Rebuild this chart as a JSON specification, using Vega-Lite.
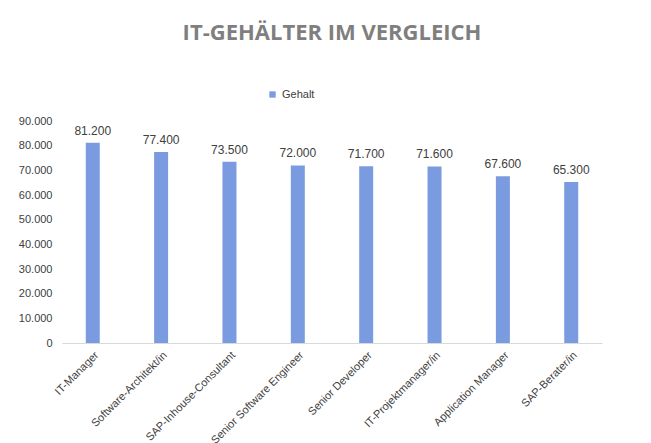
{
  "$schema": "https://vega.github.io/schema/vega-lite/v6.json",
  "width": 540,
  "height": 222,
  "padding": {"left": 18, "top": 22, "right": 30, "bottom": 10},
  "background": "white",
  "config": {
    "locale": {"number": {"decimal": ",", "thousands": ".", "grouping": [3], "currency": ["", " €"]}},
    "view": {"stroke": null},
    "font": "Liberation Sans"
  },
  "title": {
    "text": "IT-GEHÄLTER IM VERGLEICH",
    "fontSize": 22,
    "fontWeight": "bold",
    "color": "#7f7f7f",
    "font": "Open Sans",
    "offset": 44
  },
  "data": {
    "values": [
      {"Beruf": "IT-Manager", "Gehalt": 81200},
      {"Beruf": "Software-Architekt/in", "Gehalt": 77400},
      {"Beruf": "SAP-Inhouse-Consultant", "Gehalt": 73500},
      {"Beruf": "Senior Software Engineer", "Gehalt": 72000},
      {"Beruf": "Senior Developer", "Gehalt": 71700},
      {"Beruf": "IT-Projektmanager/in", "Gehalt": 71600},
      {"Beruf": "Application Manager", "Gehalt": 67600},
      {"Beruf": "SAP-Berater/in", "Gehalt": 65300}
    ]
  },
  "encoding": {
    "x": {
      "field": "Beruf", "type": "nominal", "sort": null, "title": null,
      "scale": {"paddingOuter": 0},
      "axis": {"labelAngle": -45, "labelFontSize": 11, "labelColor": "#404040", "domainColor": "#d9d9d9", "ticks": false, "labelPadding": 6}
    },
    "y": {
      "field": "Gehalt", "type": "quantitative", "title": null,
      "scale": {"domain": [0, 90000]},
      "axis": {"values": [0,10000,20000,30000,40000,50000,60000,70000,80000,90000], "format": ",.0f", "grid": false, "domain": false, "ticks": false, "labelFontSize": 11, "labelColor": "#404040", "labelPadding": 10}
    }
  },
  "layer": [
    {
      "mark": {"type": "bar", "width": 14},
      "encoding": {
        "color": {
          "datum": "Gehalt", "type": "nominal",
          "scale": {"range": ["#7b9be0"]},
          "legend": {"orient": "none", "legendX": 205, "legendY": -32, "title": null, "symbolType": "square", "symbolSize": 40, "labelFontSize": 11, "labelColor": "#404040", "direction": "horizontal"}
        }
      }
    },
    {
      "mark": {"type": "text", "dy": -12, "fontSize": 12, "color": "#404040"},
      "encoding": {"text": {"field": "Gehalt", "type": "quantitative", "format": ",.0f"}}
    }
  ]
}
